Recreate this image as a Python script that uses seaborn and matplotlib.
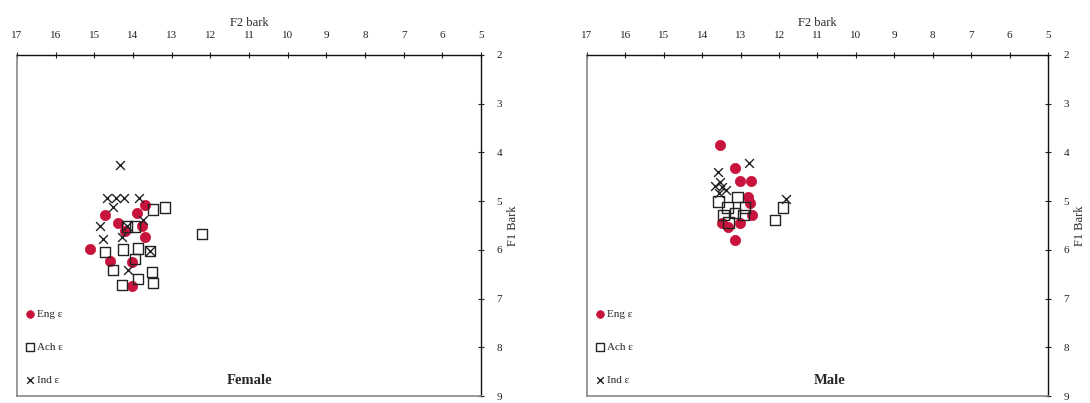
import matplotlib
matplotlib.use("Agg")
import matplotlib.pyplot as plt
import seaborn as sns
import pandas as pd

sns.set_style("ticks")
plt.rcParams["font.family"] = ["Liberation Serif", "DejaVu Serif"]

# Female panel (F2 bark, F1 bark)
fem_eng_f2 = [13.69, 14.73, 13.90, 14.38, 13.76, 13.69, 15.11, 14.59, 14.03, 14.03, 14.20]
fem_eng_f1 = [5.07, 5.28, 5.24, 5.44, 5.52, 5.74, 5.99, 6.23, 6.25, 6.74, 5.62]
fem_ach_f2 = [13.49, 13.17, 14.16, 13.95, 14.73, 14.26, 13.87, 13.56, 13.95, 14.52,
              13.51, 13.87, 14.29, 13.49, 12.22]
fem_ach_f1 = [5.17, 5.13, 5.52, 5.52, 6.05, 5.99, 5.97, 6.03, 6.19, 6.42,
              6.46, 6.60, 6.72, 6.68, 5.68]
fem_ind_f2 = [14.34, 14.67, 14.44, 14.23, 13.85, 14.52, 13.74, 14.85, 14.78, 14.29,
              14.16, 13.56, 14.13]
fem_ind_f1 = [4.26, 4.93, 4.93, 4.93, 4.93, 5.11, 5.38, 5.52, 5.78, 5.74,
              5.52, 6.03, 6.42]

# Male panel
male_eng_f2 = [13.53, 13.14, 13.01, 12.72, 12.75, 12.70, 13.48, 13.01, 13.14, 12.82, 13.32]
male_eng_f1 = [3.85, 4.32, 4.58, 4.58, 5.03, 5.28, 5.44, 5.44, 5.79, 4.91, 5.54]
male_ach_f2 = [13.58, 13.08, 13.34, 12.88, 13.45, 13.14, 12.93, 13.32, 12.11, 11.90]
male_ach_f1 = [5.01, 4.91, 5.13, 5.13, 5.28, 5.24, 5.28, 5.44, 5.38, 5.13]
male_ind_f2 = [12.78, 13.60, 13.53, 13.66, 13.48, 13.56, 13.37, 11.82]
male_ind_f1 = [4.22, 4.40, 4.60, 4.69, 4.71, 4.83, 4.77, 4.95]

groups = ["Eng ε", "Ach ε", "Ind ε"]
panels = ["Female", "Male"]


def make_df(eng, ach, ind):
    rows = []
    for name, (f2, f1) in zip(groups, [eng, ach, ind]):
        for a, b in zip(f2, f1):
            rows.append({"group": name, "F2": a, "F1": b})
    return pd.DataFrame(rows)


data = {
    "Female": make_df((fem_eng_f2, fem_eng_f1), (fem_ach_f2, fem_ach_f1),
                      (fem_ind_f2, fem_ind_f1)),
    "Male": make_df((male_eng_f2, male_eng_f1), (male_ach_f2, male_ach_f1),
                    (male_ind_f2, male_ind_f1)),
}

red = "#c8143c"
fig = plt.figure(figsize=(10.9, 4.03), dpi=100)
boxes = [(17, 464), (587, 461)]
title_x = [0.502, 0.527]

for panel, (left, width), tx in zip(panels, boxes, title_x):
    ax = fig.add_axes([left / 1090, 7 / 403, width / 1090, 341 / 403])
    df = data[panel]
    sns.scatterplot(data=df[df.group == "Eng ε"], x="F2", y="F1", ax=ax,
                    color=red, marker="o", s=55, edgecolor=red, linewidth=0.5,
                    label="Eng ε", zorder=2)
    sns.scatterplot(data=df[df.group == "Ach ε"], x="F2", y="F1", ax=ax,
                    marker="s", s=55, facecolor="none", edgecolor="#222222",
                    linewidth=1.0, label="Ach ε", zorder=3)
    sns.scatterplot(data=df[df.group == "Ind ε"], x="F2", y="F1", ax=ax,
                    marker="x", s=40, color="#222222", linewidth=1.0,
                    label="Ind ε", zorder=4)

    ax.set_xlim(17, 5)
    ax.set_ylim(9, 2)
    ax.set_xticks(range(17, 4, -1))
    ax.set_yticks(range(2, 10))
    ax.xaxis.tick_top()
    ax.xaxis.set_label_position("top")
    ax.yaxis.tick_right()
    ax.yaxis.set_label_position("right")
    ax.tick_params(axis="both", direction="inout", length=4, width=0.8,
                   labelsize=8, colors="#222222")
    ax.tick_params(axis="x", pad=8.5)
    ax.tick_params(axis="y", pad=9)
    ax.set_xlabel("F2 bark", fontsize=9, labelpad=4)
    ax.set_ylabel("F1 Bark", fontsize=9, labelpad=4)
    for side in ["top", "right"]:
        ax.spines[side].set_color("#111111")
        ax.spines[side].set_linewidth(1.0)
    for side in ["left", "bottom"]:
        ax.spines[side].set_color("#888888")
        ax.spines[side].set_linewidth(1.2)

    ax.text(tx, 0.045, panel, transform=ax.transAxes, fontsize=10.5,
            fontweight="bold", ha="center", va="center")
    ax.legend(loc="lower left", bbox_to_anchor=(0.004, 0.01), frameon=False,
              fontsize=8, labelspacing=2.1, handlelength=0.6,
              handletextpad=0.3, borderaxespad=0.3, markerscale=0.75)

fig.savefig("out.png", dpi=100)
